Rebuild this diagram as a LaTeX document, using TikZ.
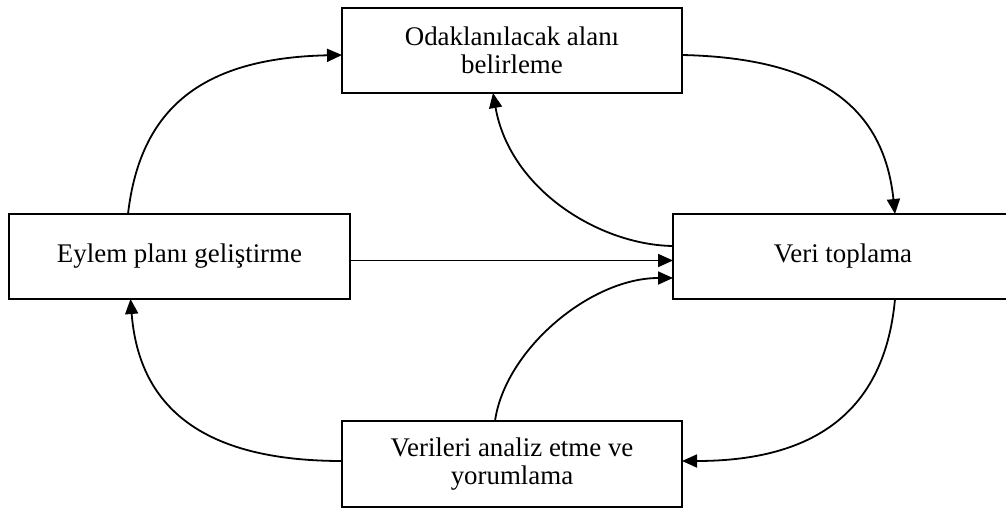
\documentclass[tikz,border=0pt]{standalone}
\usepackage{fontspec}
\setmainfont{Liberation Serif}
\usetikzlibrary{arrows.meta}
\begin{document}
\begin{tikzpicture}[x=1pt,y=-1pt,
  box/.style={draw=black,line width=2.2pt,fill=white,inner sep=0pt,outer sep=0pt,
    minimum width=340pt,minimum height=85pt,align=center,
    font=\fontsize{26.9}{27.5}\selectfont},
  conn/.style={line width=1.8pt,-{Triangle[length=15pt,width=13pt]}}]
\useasboundingbox (0,0) rectangle (1006,508);
\node[box] (T) at (512,50.5) {Odaklanılacak alanı\\belirleme};
\node[box,minimum width=341pt] (L) at (179.5,256.5) {Eylem planı geliştirme};
\node[box] (R) at (843,256.5) {Veri toplama};
\node[box,minimum height=86pt] (B) at (512,464) {Verileri analiz etme ve\\yorumlama};
% 1
\draw[conn] ([xshift=-51.5pt]L.north) .. controls (140,110) and (200,58) .. ([yshift=-4.5pt]T.west);
% 2
\draw[conn] ([yshift=-4.5pt]T.east) .. controls (824,58) and (884,110) .. ([xshift=52pt]R.north);
% 3
\draw[conn] ([yshift=10.5pt]R.west) .. controls (600,245) and (510,190) .. ([xshift=-19pt]T.south);
% 4
\draw[conn] ([yshift=-4pt]L.east) -- ([yshift=-4pt]R.west);
% 5
\draw[conn] ([xshift=-17pt]B.north) .. controls (505,350) and (590,278) .. ([yshift=-21.5pt]R.west);
% 6
\draw[conn] ([xshift=52pt]R.south) .. controls (884,420) and (804,461) .. ([yshift=3pt]B.east);
% 7
\draw[conn] ([yshift=3pt]B.west) .. controls (220,461) and (140,420) .. ([xshift=-49pt]L.south);
\end{tikzpicture}
\end{document}
